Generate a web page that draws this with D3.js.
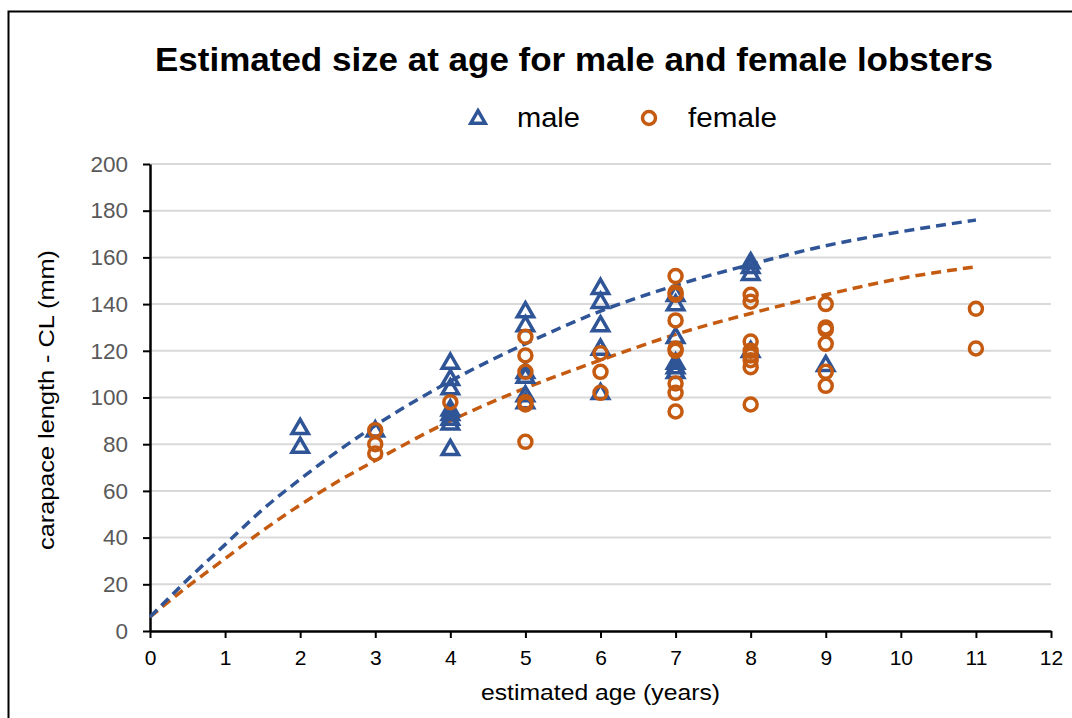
<!DOCTYPE html>
<html>
<head>
<meta charset="utf-8">
<script src="https://cdn.jsdelivr.net/npm/d3@7"></script>
<style>
  body { margin: 0; background: #fff; }
  text { font-family: "Liberation Sans", Arial, sans-serif; }
</style>
</head>
<body>
<div id="chart"></div>
<script>
var width = 1072,
  height = 718;

// observed points, [age, carapace length]
var maleAge = [2, 2, 3, 4, 4, 4, 4, 4, 4, 4, 4, 5, 5, 5, 5, 5, 5, 6, 6, 6, 6, 6, 7, 7, 7, 7, 7, 7, 8, 8, 8, 8, 9];
var maleCL  = [87, 79, 86, 115, 108, 104, 95, 93, 91, 89, 78, 137, 131, 111, 109, 101, 98, 147, 141, 131, 121, 102, 144, 140, 126, 115, 113, 111, 158, 156, 153, 120, 114];

var femaleAge = [3, 3, 3, 4, 5, 5, 5, 5, 5, 5, 6, 6, 6, 7, 7, 7, 7, 7, 7, 7, 7, 7, 8, 8, 8, 8, 8, 8, 8, 8, 9, 9, 9, 9, 9, 9, 11, 11];
var femaleCL  = [86, 80, 76, 98, 126, 118, 111, 98, 97, 81, 119, 111, 102, 152, 145, 144, 133, 121, 120, 106, 102, 94, 144, 141, 124, 120, 118, 116, 113, 97, 140, 130, 129, 123, 111, 105, 138, 121];

// fitted growth curves
var curveAge    = [0, 0.5, 1, 1.5, 2, 2.5, 3, 4, 5, 6, 7, 8, 9, 10, 11];
var maleCurve   = [6, 22, 37, 52, 65, 77, 88, 107, 123, 137, 148, 157, 165, 171, 176];
var femaleCurve = [6, 19, 31, 43, 54, 64, 73, 90, 104, 116, 127, 136, 144, 151, 156];

var xTicks = d3.range(0, 13, 1);
var yTicks = d3.range(0, 201, 20);

var blue = "#2F5597",
  orange = "#C55A11";

var svg = d3.select("#chart").append("svg")
  .attr("width", width)
  .attr("height", height);

// chart border
svg.append("rect")
  .attr("x", 8.5).attr("y", 11.5)
  .attr("width", 1080).attr("height", 720)
  .attr("fill", "none")
  .attr("stroke", "#000")
  .attr("stroke-width", 2);

var x = d3.scaleLinear().domain([0, 12]).range([150, 1051]);
var y = d3.scaleLinear().domain([0, 200]).range([631, 164]);

// gridlines
svg.append("g")
  .selectAll("line")
  .data(yTicks.slice(1))
  .enter().append("line")
    .attr("x1", x(0)).attr("x2", x(12))
    .attr("y1", function(d) { return y(d); })
    .attr("y2", function(d) { return y(d); })
    .attr("stroke", "#d9d9d9")
    .attr("stroke-width", 2);

var xAxis = svg.append("g")
  .attr("transform", "translate(0," + y(0) + ")")
  .call(d3.axisBottom(x).tickValues(xTicks).tickSize(7).tickSizeOuter(0).tickPadding(12));
xAxis.select(".domain").attr("stroke-width", 2.5);
xAxis.selectAll(".tick line").attr("stroke-width", 2);
xAxis.selectAll("text").attr("font-size", 21).attr("fill", "#000")
  .style("font-family", "Liberation Sans, Arial, sans-serif");

var yAxis = svg.append("g")
  .attr("transform", "translate(" + x(0) + ",0)")
  .call(d3.axisLeft(y).tickValues(yTicks).tickSize(7).tickSizeOuter(0).tickPadding(15));
yAxis.select(".domain").attr("stroke-width", 2.5);
yAxis.selectAll(".tick line").attr("stroke-width", 2);
yAxis.selectAll("text").attr("font-size", 22.5).attr("fill", "#595959")
  .style("font-family", "Liberation Sans, Arial, sans-serif");

// curves
var line = d3.line()
  .x(function(d) { return x(d[0]); })
  .y(function(d) { return y(d[1]); })
  .curve(d3.curveMonotoneX);

svg.append("path")
  .datum(curveAge.map(function(a, i) { return [a, femaleCurve[i]]; }))
  .attr("d", line)
  .attr("fill", "none")
  .attr("stroke", orange)
  .attr("stroke-width", 3.5)
  .attr("stroke-dasharray", "10,6");

svg.append("path")
  .datum(curveAge.map(function(a, i) { return [a, maleCurve[i]]; }))
  .attr("d", line)
  .attr("fill", "none")
  .attr("stroke", blue)
  .attr("stroke-width", 3.5)
  .attr("stroke-dasharray", "10,6");

var tri = d3.symbol().type(d3.symbolTriangle).size(115);

// male points
svg.append("g")
  .selectAll("path")
  .data(maleAge.map(function(a, i) { return [a, maleCL[i]]; }))
  .enter().append("path")
    .attr("d", tri)
    .attr("transform", function(d) { return "translate(" + x(d[0]) + "," + (y(d[1]) + 1) + ")"; })
    .attr("fill", "none")
    .attr("stroke", blue)
    .attr("stroke-width", 3.5);

// female points
svg.append("g")
  .selectAll("circle")
  .data(femaleAge.map(function(a, i) { return [a, femaleCL[i]]; }))
  .enter().append("circle")
    .attr("cx", function(d) { return x(d[0]); })
    .attr("cy", function(d) { return y(d[1]); })
    .attr("r", 6.5)
    .attr("fill", "none")
    .attr("stroke", orange)
    .attr("stroke-width", 3.5);

// title
svg.append("text")
  .attr("x", 155).attr("y", 71)
  .attr("font-size", 33)
  .attr("font-weight", "bold")
  .attr("textLength", 838)
  .attr("lengthAdjust", "spacingAndGlyphs")
  .text("Estimated size at age for male and female lobsters");

// legend
svg.append("path")
  .attr("d", d3.symbol().type(d3.symbolTriangle).size(90))
  .attr("transform", "translate(478,119)")
  .attr("fill", "none").attr("stroke", blue).attr("stroke-width", 3.5);
svg.append("text")
  .attr("x", 517).attr("y", 127)
  .attr("font-size", 27)
  .attr("textLength", 63)
  .attr("lengthAdjust", "spacingAndGlyphs")
  .text("male");
svg.append("circle")
  .attr("cx", 649).attr("cy", 118).attr("r", 6.5)
  .attr("fill", "none").attr("stroke", orange).attr("stroke-width", 3.5);
svg.append("text")
  .attr("x", 688).attr("y", 127)
  .attr("font-size", 27)
  .attr("textLength", 89)
  .attr("lengthAdjust", "spacingAndGlyphs")
  .text("female");

// axis titles
svg.append("text")
  .attr("x", 481).attr("y", 700)
  .attr("font-size", 22)
  .attr("textLength", 239)
  .attr("lengthAdjust", "spacingAndGlyphs")
  .text("estimated age (years)");

svg.append("text")
  .attr("transform", "translate(54,550) rotate(-90)")
  .attr("font-size", 22)
  .attr("textLength", 300)
  .attr("lengthAdjust", "spacingAndGlyphs")
  .text("carapace length - CL (mm)");
</script>
</body>
</html>
